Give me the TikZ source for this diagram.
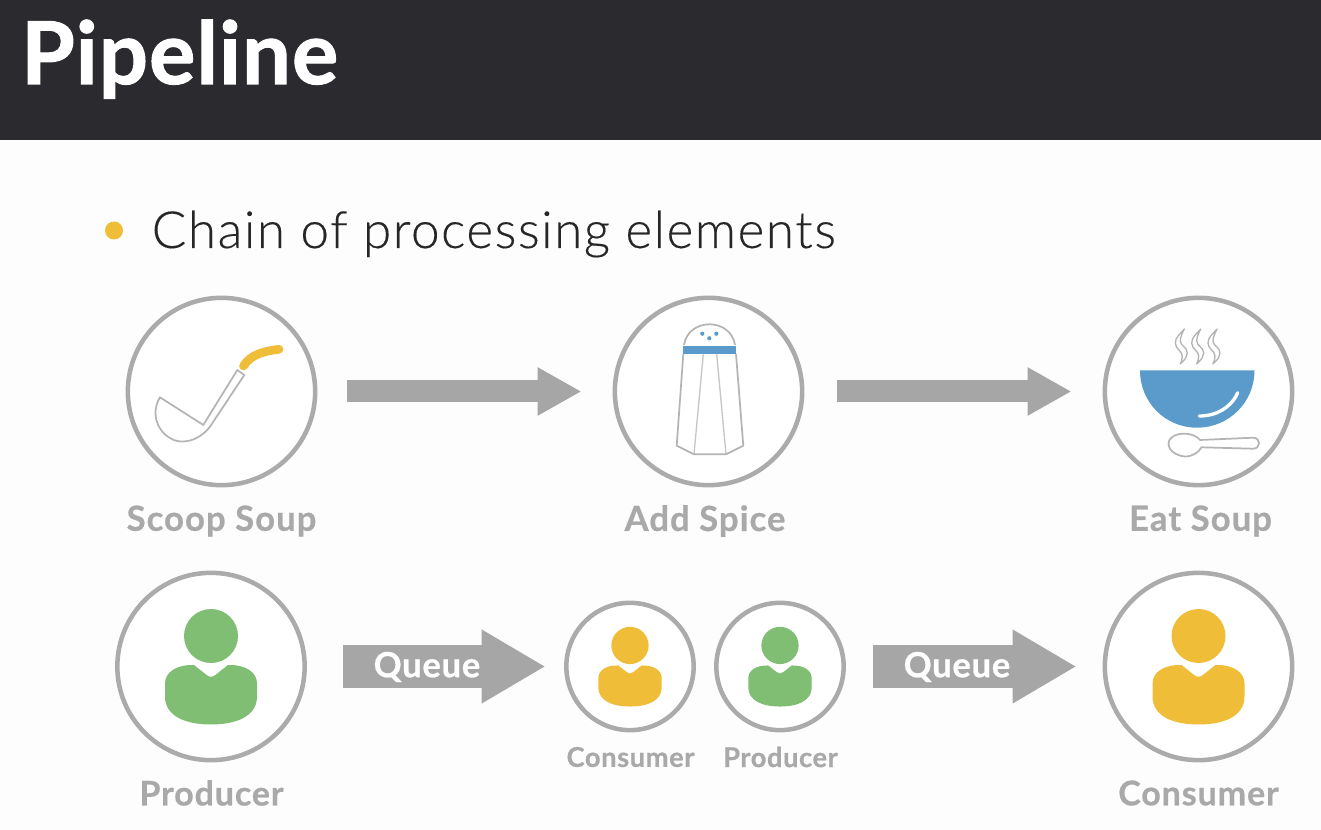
\documentclass[tikz,border=0pt]{standalone}
\usepackage{fontspec}
\setmainfont{Lato}
\newfontfamily\lightfont{Lato Light}
\usetikzlibrary{arrows.meta}
\definecolor{hdr}{HTML}{2B2A2E}
\definecolor{ringgray}{HTML}{ABABAB}
\definecolor{labelgray}{HTML}{A9A9A9}
\definecolor{arrowgray}{HTML}{A6A6A6}
\definecolor{iconline}{HTML}{B4B4B4}
\definecolor{soupyellow}{HTML}{F0BD38}
\definecolor{soupblue}{HTML}{5A9BCB}
\definecolor{soupgreen}{HTML}{7FBE73}
\definecolor{paper}{HTML}{FDFDFD}
\definecolor{ink}{HTML}{262626}
\tikzset{
  ring/.style={circle,draw=ringgray,line width=3.4pt,inner sep=0pt,outer sep=0pt,fill=white},
  bigring/.style={ring,minimum size=140.5pt},
  smallring/.style={ring,minimum size=95.5pt},
  biglabel/.style={inner sep=0pt,text=labelgray,font=\fontsize{26}{30}\selectfont\bfseries\addfontfeatures{LetterSpace=3,FakeBold=0.6}},
  lowlabel/.style={inner sep=0pt,text=labelgray,font=\fontsize{25.5}{30}\selectfont\bfseries\addfontfeatures{LetterSpace=2.6,FakeBold=0.6}},
  smalllabel/.style={inner sep=0pt,text=labelgray,font=\fontsize{20.5}{24}\selectfont\bfseries\addfontfeatures{LetterSpace=2,FakeBold=0.6}},
  thinblock/.style={draw=arrowgray,line width=16.5pt,-{Triangle[length=33pt,width=34pt]}},
  thickblock/.style={draw=arrowgray,line width=32pt,-{Triangle[length=48pt,width=52pt]}},
  queuetext/.style={inner sep=0pt,text=white,font=\fontsize{26}{30}\selectfont\bfseries\addfontfeatures{LetterSpace=2,FakeBold=0.6}},
  iconstroke/.style={draw=iconline,line width=1.3pt,line join=round},
}
\newcommand{\personicon}[4]{%
  \begin{scope}[shift={(#1,#2)},scale=#3]
    \fill[#4] (0,-30.5) circle[radius=27];
    \fill[#4] (-17,-1.5) -- (-5,8) .. controls (-2,11) and (2,11) .. (5,8) -- (17,-1.5)
      .. controls (35,-2) and (46,6) .. (46,17) -- (46,30)
      .. controls (46,50) and (25,58) .. (0,58)
      .. controls (-25,58) and (-46,50) .. (-46,30) -- (-46,17)
      .. controls (-46,6) and (-35,-2) .. (-17,-1.5) -- cycle;
  \end{scope}}
\newcommand{\steamicon}[2]{%
  \draw[iconstroke,line width=1pt,shift={(#1,#2)}] (0,0)
    .. controls (-4,5) and (-9,8) .. (-9,14)
    .. controls (-9,20) and (-2,22) .. (-2,27)
    .. controls (-2,30) and (-3,33) .. (-4,35)
    .. controls (1,30) and (3,28) .. (3,24)
    .. controls (3,18) and (-4,17) .. (-4,12)
    .. controls (-4,8) and (-2,4) .. (0,0) -- cycle;}
\begin{document}
\begin{tikzpicture}[x=.75pt,y=-.75pt]
\useasboundingbox (0,0) rectangle (1321,830);
\fill[paper] (0,0) rectangle (1321,830);
\fill[hdr] (0,0) rectangle (1321,140);
\node[anchor=base west,inner sep=0pt,text=white,font=\fontsize{65}{72}\selectfont\bfseries\addfontfeatures{FakeBold=1.2,LetterSpace=1.2}] (title) at (21,84) {Pipeline};
\node[circle,fill=soupyellow,minimum size=13.5pt,inner sep=0pt] (bullet) at (114,230.5) {};
\node[anchor=base west,inner sep=0pt,text=ink,font=\lightfont\fontsize{38.4}{42}\selectfont\addfontfeatures{LetterSpace=3,FakeBold=0.25}] (bullettext) at (151.5,248) {Chain of processing elements};

% rings
\node[bigring] (scoop) at (221.5,391.5) {};
\node[bigring] (spice) at (708.5,391.5) {};
\node[bigring] (eat) at (1198.5,391.5) {};
\node[bigring] (prod) at (211,666.5) {};
\node[smallring] (midcons) at (630,666.5) {};
\node[smallring] (midprod) at (780,666.5) {};
\node[bigring] (cons) at (1198.5,666.5) {};

% labels
\node[biglabel] (l1) at (221.5,521) {Scoop Soup};
\node[biglabel] (l2) at (705,521) {Add Spice};
\node[biglabel] (l3) at (1200.5,521) {Eat Soup};
\node[lowlabel] (l4) at (211.5,793) {Producer};
\node[lowlabel] (l5) at (1198.5,793) {Consumer};
\node[smalllabel] (l6) at (630.5,757) {Consumer};
\node[smalllabel] (l7) at (780.5,757) {Producer};

% connectors
\draw[thinblock,shorten <=23.6pt,shorten >=25pt] (scoop) -- (spice);
\draw[thinblock,shorten <=25.85pt,shorten >=25pt] (spice) -- (eat);
\draw[thickblock,shorten <=28.5pt,shorten >=15.6pt] (prod) -- (midcons);
\draw[thickblock,shorten <=21.7pt,shorten >=21.25pt] (midprod) -- (cons);
\node[queuetext] (q1) at (427,667) {Queue};
\node[queuetext] (q2) at (957,667) {Queue};

% ladle
\draw[iconstroke] (160,397.3) -- (203.3,425) -- (237.3,370) -- (244.3,375) -- (210,426.7)
  .. controls (198,442) and (180,445) .. (170,438)
  .. controls (156,430) and (151,412) .. (160,397.3) -- cycle;
\draw[soupyellow,line width=6.5pt,line cap=round] (243.5,366) .. controls (251,354) and (265,351) .. (279,349.3);

% shaker
\draw[iconstroke] (684,345) .. controls (686,332) and (697,324.3) .. (709.5,324.3) .. controls (722,324.3) and (733,332) .. (735,345);
\draw[iconline,line width=1pt,opacity=.75] (703.3,354.3) -- (694,454.3);
\draw[iconline,line width=1pt,opacity=.75] (716.7,354.3) -- (726,454.3);
\draw[iconstroke] (683.3,354) -- (676.7,445.7) -- (694,454.3) -- (726,454.3) -- (743.3,445.7) -- (736,354);
\fill[soupblue] (683.3,345.7) rectangle (736,354.3);
\fill[soupblue] (702.3,333.7) circle[radius=2.1] (716.3,333.7) circle[radius=2.1] (709.3,338.3) circle[radius=2.1];

% soup bowl
\steamicon{1184.3}{329}
\steamicon{1200.7}{329}
\steamicon{1217}{329}
\fill[soupblue] (1140,370.5) -- (1254.5,370.5) .. controls (1254.5,402) and (1229,427.7) .. (1197,427.7)
  .. controls (1165,427.7) and (1140,402) .. (1140,370.5) -- cycle;
\draw[white,line width=2.5pt,line cap=round] (1199.3,416) .. controls (1216,416) and (1231,408) .. (1237.7,392.7);
\draw[iconstroke] (1200,440) .. controls (1195,433) and (1178,431) .. (1171,438)
  .. controls (1165,444) and (1170,455) .. (1185,456.5)
  .. controls (1193,456.5) and (1199,452) .. (1201.5,447.3)
  -- (1253,448.7) .. controls (1261,448.7) and (1261,437.7) .. (1253,437.7) -- (1200,440) -- cycle;

% people
\personicon{211}{666.5}{1}{soupgreen}
\personicon{630}{666.5}{.69}{soupyellow}
\personicon{780}{666.5}{.69}{soupgreen}
\personicon{1198.5}{666.5}{1}{soupyellow}
\end{tikzpicture}
\end{document}
